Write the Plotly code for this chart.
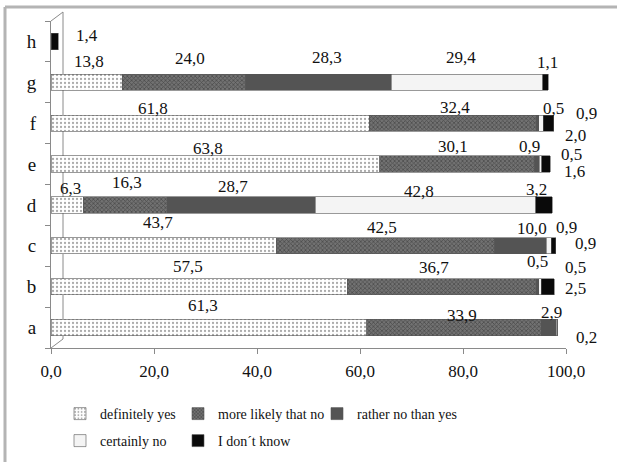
import plotly.graph_objects as go

# Survey answers per item (percent of respondents)
categories = ["a", "b", "c", "d", "e", "f", "g", "h"]
series_names = ["definitely yes", "more likely that no", "rather no than yes",
                "certainly no", "I don´t know"]
definitely_yes = [61.3, 57.5, 43.7, 6.3, 63.8, 61.8, 13.8, 0.0]
more_likely_no = [33.9, 36.7, 42.5, 16.3, 30.1, 32.4, 24.0, 0.0]
rather_no = [2.9, 0.5, 10.0, 28.7, 0.9, 0.5, 28.3, 0.0]
certainly_no = [0.2, 0.5, 0.9, 42.8, 0.5, 0.9, 29.4, 0.0]
dont_know = [0.0, 2.5, 0.9, 3.2, 1.6, 2.0, 1.1, 1.4]
x_ticks = [0, 20, 40, 60, 80, 100]

series_values = [definitely_yes, more_likely_no, rather_no, certainly_no, dont_know]

SERIF = "Liberation Serif"

# Plot-area geometry in px
L, R, T, B = 51, 51, 21, 114
W, H = 617, 462
pw, ph = W - L - R, H - T - B

patterns = [
    dict(shape=".", fgcolor="#555555", bgcolor="white", size=4, solidity=0.25),
    dict(shape="x", fgcolor="#262626", bgcolor="#727272", size=3, solidity=0.45),
    None, None, None,
]
bar_fill = ["white", "#6a6a6a", "#545454", "#f4f4f4", "#0a0a0a"]

# Legend slots: (text start px, row centre px), one legend per series
legend_slots = [(98, 414), (216, 414), (355, 414), (98, 441), (216, 441)]

fig = go.Figure()
for k, (name, vals) in enumerate(zip(series_names, series_values)):
    marker = dict(color=bar_fill[k], line=dict(color="#555555", width=0.6))
    if patterns[k]:
        marker["pattern"] = patterns[k]
    fig.add_trace(go.Bar(
        y=categories, x=vals, name=name, orientation="h",
        marker=marker, width=0.4,
        legend="legend" if k == 0 else f"legend{k + 1}",
    ))

# Label nudges (px) for each category / series, keeps small values readable
label_nudge = {
    "h": [None, None, None, None, (32, 6)],
    "g": [(2, 21), (6, 24), (8, 25), (-6, 25), (2, 20)],
    "f": [(-57, 15), (2, 16), (16, 15), (45, 10), (27, -12)],
    "e": [(-7, 16), (-4, 18), (-7, 18), (31, 10), (29, -7)],
    "d": [(3, 16), (2, 22), (-8, 18), (-6, 13), (-7, 15)],
    "c": [(-6, 23), (-3, 18), (11, 17), (18, 18), (32, 2)],
    "b": [(-11, 20), (-8, 19), (0, 25), (36, 19), (28, -2)],
    "a": [(-6, 22), (8, 12), (3, 15), (30, -10), None],
}

annotations = []
for i, cat in enumerate(categories):
    start = 0.0
    for s, vals in enumerate(series_values):
        v = vals[i]
        nudge = label_nudge[cat][s]
        if v > 0 and nudge is not None:
            annotations.append(dict(
                x=start + v / 2, y=cat, xref="x", yref="y",
                text=f"{v:.1f}".replace(".", ","), showarrow=False,
                xshift=nudge[0], yshift=nudge[1],
                font=dict(family=SERIF, size=17, color="#111111"),
            ))
        start += v

dx, dy = 12 / pw, 9 / ph
shapes = [
    # back wall edge of the 3-D floor/wall
    dict(type="path", xref="paper", yref="paper",
         path=f"M 0,1 L {dx},{1 + dy} L {dx},{dy} L 0,0",
         line=dict(color="#8a8a8a", width=1), layer="below"),
    # outer frame (top and left edges)
    dict(type="line", xref="paper", yref="paper",
         x0=(5 - L) / pw, x1=(W - L) / pw + 0.01,
         y0=(H - B - 7) / ph, y1=(H - B - 7) / ph,
         line=dict(color="#b4b4b4", width=3)),
    dict(type="line", xref="paper", yref="paper",
         x0=(5 - L) / pw, x1=(5 - L) / pw,
         y0=(H - B - 7) / ph, y1=-(B + 10) / ph,
         line=dict(color="#b4b4b4", width=3)),
]

legends = {}
for k, (tx, ty) in enumerate(legend_slots):
    key = "legend" if k == 0 else f"legend{k + 1}"
    legends[key] = dict(
        x=(tx - 38 - L) / pw, y=-(ty - (H - B)) / ph,
        xanchor="left", yanchor="middle", orientation="h",
        font=dict(family=SERIF, size=14, color="#111111"),
        itemwidth=30, bgcolor="rgba(0,0,0,0)",
    )

fig.update_layout(
    width=W, height=H,
    margin=dict(l=L, r=R, t=T, b=B, autoexpand=False),
    paper_bgcolor="white", plot_bgcolor="white",
    font=dict(family=SERIF),
    barmode="stack", bargap=0.6,
    separators=",.",
    showlegend=True,
    xaxis=dict(range=[0, 100], tickvals=x_ticks, tickformat=".1f",
               showgrid=False, zeroline=False, showline=True, linecolor="#8a8a8a",
               ticks="outside", ticklen=5, tickcolor="#8a8a8a",
               ticklabelstandoff=3,
               tickfont=dict(family=SERIF, size=17, color="#111111")),
    yaxis=dict(type="category", categoryorder="array", categoryarray=categories,
               range=[-0.5, len(categories) - 0.5], tickson="boundaries",
               showgrid=False, zeroline=False, showline=True, linecolor="#8a8a8a",
               ticks="outside", ticklen=5, tickcolor="#8a8a8a",
               ticklabelstandoff=10,
               tickfont=dict(family=SERIF, size=19, color="#111111")),
    annotations=annotations,
    shapes=shapes,
    **legends,
)

fig.write_html("out.html")
